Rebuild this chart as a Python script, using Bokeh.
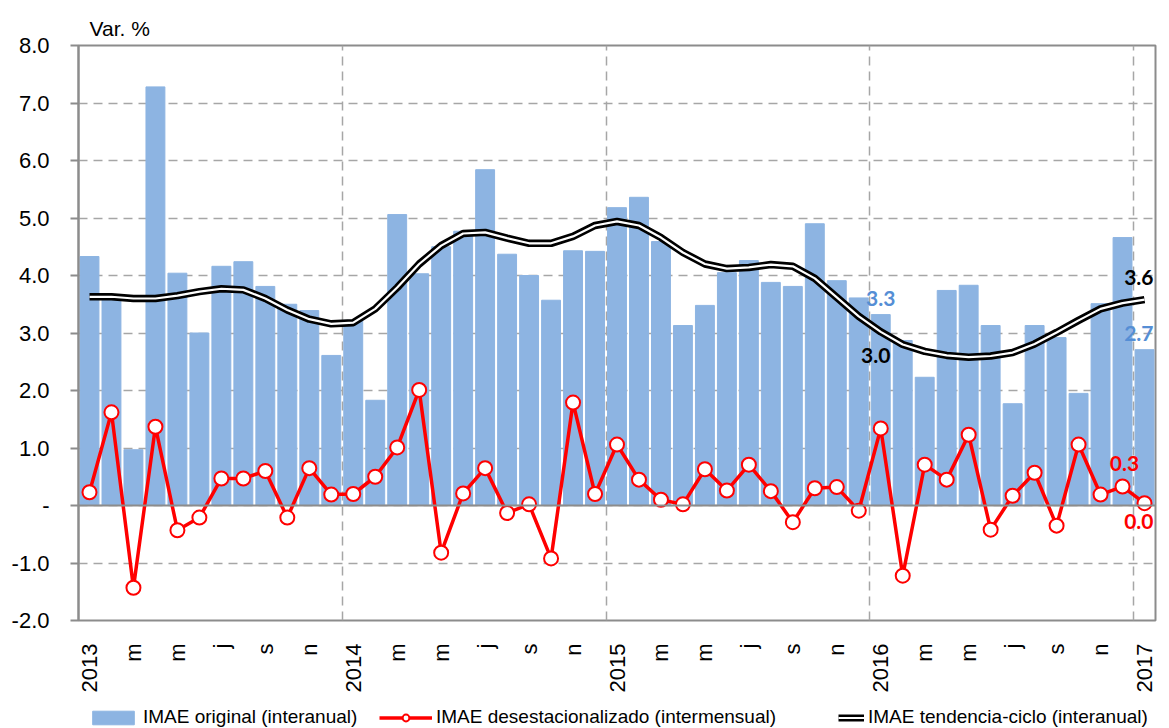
import math
from bokeh.plotting import figure
from bokeh.layouts import column
from bokeh.models import (FixedTicker, Span, Label, Legend, LegendItem, Range1d)
from bokeh.embed import file_html
from bokeh.resources import INLINE

# ---------------- data ----------------
months = list(range(49))  # Jan 2013 .. Jan 2017
years = ["2013", "2014", "2015", "2016", "2017"]
month_marks = ["m", "m", "j", "s", "n"]

imae_original = [4.33, 3.65, 0.97, 7.28, 4.04, 3.00, 4.16, 4.24, 3.81, 3.50, 3.39, 2.61,
                 3.22, 1.83, 5.06, 4.03, 4.50, 4.77, 5.84, 4.37, 4.00, 3.57, 4.43, 4.42,
                 5.18, 5.36, 4.59, 3.13, 3.48, 4.05, 4.26, 3.88, 3.81, 4.90, 3.91, 3.61,
                 3.32, 2.87, 2.23, 3.74, 3.83, 3.13, 1.77, 3.13, 2.92, 1.95, 3.51, 4.66,
                 2.71]

imae_desest = [0.23, 1.62, -1.43, 1.37, -0.43, -0.21, 0.47, 0.47, 0.60, -0.21, 0.65, 0.19,
               0.20, 0.50, 1.01, 2.01, -0.82, 0.21, 0.65, -0.13, 0.02, -0.92, 1.79, 0.20,
               1.06, 0.45, 0.10, 0.02, 0.63, 0.26, 0.71, 0.25, -0.29, 0.30, 0.32, -0.09,
               1.34, -1.22, 0.71, 0.45, 1.23, -0.42, 0.17, 0.57, -0.35, 1.06, 0.19, 0.33,
               0.04]

imae_tendencia = [3.63, 3.63, 3.60, 3.60, 3.65, 3.72, 3.77, 3.75, 3.60, 3.40, 3.24, 3.16,
                  3.18, 3.42, 3.79, 4.20, 4.52, 4.73, 4.75, 4.65, 4.56, 4.56, 4.68, 4.87,
                  4.94, 4.87, 4.66, 4.40, 4.20, 4.12, 4.14, 4.19, 4.16, 3.95, 3.62, 3.29,
                  3.02, 2.80, 2.68, 2.61, 2.58, 2.60, 2.66, 2.81, 3.01, 3.22, 3.42, 3.52,
                  3.58]

series_names = ["IMAE original (interanual)",
                "IMAE desestacionalizado (intermensual)",
                "IMAE tendencia-ciclo (interanual)"]

y_ticks = list(range(-2, 9))

# tick labels on the x axis: every second month
x_ticks = list(range(0, 49, 2))
x_labels = {}
for t in x_ticks:
    if t % 12 == 0:
        x_labels[t] = years[t // 12]
    else:
        x_labels[t] = month_marks[(t % 12) // 2 - 1]

y_labels = {v: ("-" if v == 0 else f"{v:.1f}") for v in y_ticks}

# ---------------- styling ----------------
GRAY = "#8c8c8c"
GRID = "#a6a6a6"
BAR = "#8db4e2"
RED = "#ff0000"
BLUE_TXT = "#558ed5"
FONT = "Liberation Sans"
W = 1169

# ---------------- main figure ----------------
p = figure(width=W, height=698, x_range=Range1d(-0.5, 48.5), y_range=Range1d(-2, 8),
           output_backend="svg", toolbar_location=None,
           min_border_left=78, min_border_right=14, min_border_top=45, min_border_bottom=78)

p.outline_line_color = GRAY
p.outline_line_width = 2
p.background_fill_color = "white"
p.border_fill_color = "white"

p.title.text = "Var. %"
p.title.align = "left"
p.title.offset = 11
p.title.standoff = 11
p.title.text_font = FONT
p.title.text_font_size = "21px"
p.title.text_font_style = "normal"
p.title.text_color = "black"

# y axis
p.yaxis.ticker = FixedTicker(ticks=y_ticks)
p.yaxis.major_label_overrides = y_labels
p.yaxis.axis_line_color = GRAY
p.yaxis.axis_line_width = 2
p.yaxis.major_tick_line_color = GRAY
p.yaxis.major_tick_line_width = 2
p.yaxis.major_tick_out = 8
p.yaxis.major_tick_in = 0
p.yaxis.minor_tick_line_color = None
p.yaxis.major_label_text_font = FONT
p.yaxis.major_label_text_font_size = "22px"
p.yaxis.major_label_text_color = "black"
p.yaxis.major_label_standoff = 21

# x axis
p.xaxis.ticker = FixedTicker(ticks=x_ticks)
p.xaxis.major_label_overrides = x_labels
p.xaxis.axis_line_color = None
p.xaxis.major_tick_line_color = None
p.xaxis.minor_tick_line_color = None
p.xaxis.major_label_orientation = math.pi / 2
p.xaxis.major_label_text_font = FONT
p.xaxis.major_label_text_font_size = "22px"
p.xaxis.major_label_text_color = "black"
p.xaxis.major_label_standoff = 17

# grids
p.ygrid.ticker = FixedTicker(ticks=y_ticks)
p.ygrid.grid_line_color = GRID
p.ygrid.grid_line_dash = "9 6"
p.ygrid.grid_line_width = 1.5
p.xgrid.ticker = FixedTicker(ticks=[11.5, 23.5, 35.5, 47.5])
p.xgrid.grid_line_color = GRID
p.xgrid.grid_line_dash = "9 6"
p.xgrid.grid_line_width = 1.5

# glyphs
p.vbar(x=months, top=imae_original, width=0.86, fill_color=BAR, line_color=BAR)
p.add_layout(Span(location=0, dimension="width", line_color=GRAY, line_width=2))
p.line(months, imae_tendencia, line_color="black", line_width=7.5)
p.line(months, imae_tendencia, line_color="white", line_width=2.2)
p.line(months, imae_desest, line_color=RED, line_width=3.5)
p.scatter(months, imae_desest, marker="circle", size=14, fill_color="white",
          line_color=RED, line_width=2)

# data labels
def lab(x, y, text, color, xo, yo, baseline, align="center"):
    p.add_layout(Label(x=x, y=y, text=text, text_color=color, text_font="Lato",
                       text_font_style="bold", text_font_size="21px", text_align=align,
                       text_baseline=baseline, x_offset=xo, y_offset=yo))

lab(36, imae_original[36], "3.3", BLUE_TXT, 0, 9, "bottom")
lab(36, imae_tendencia[36], "3.0", "black", -5, -16, "top")
lab(48, imae_tendencia[48], "3.6", "black", 9, 15, "bottom", "right")
lab(48, imae_original[48], "2.7", BLUE_TXT, 9, 9, "bottom", "right")
lab(47, imae_desest[47], "0.3", RED, 2, 16, "bottom")
lab(48, imae_desest[48], "0.0", RED, 9, -11, "top", "right")

# ---------------- legend strip ----------------
NAN = float("nan")
lg = figure(width=W, height=30, x_range=Range1d(0, W), y_range=Range1d(0, 30),
            output_backend="svg", toolbar_location=None,
            x_axis_type=None, y_axis_type=None,
            min_border_left=0, min_border_right=0, min_border_top=0, min_border_bottom=0)
lg.outline_line_color = None
lg.xgrid.visible = False
lg.ygrid.visible = False

r_bar = lg.vbar(x=[NAN], top=[NAN], width=1, fill_color=BAR, line_color=BAR)
r_red_l = lg.line([NAN], [NAN], line_color=RED, line_width=3.5)
r_red_p = lg.scatter([NAN], [NAN], marker="circle", size=13, fill_color="white",
                     line_color=RED, line_width=2)
r_tr_o = lg.line([NAN], [NAN], line_color="black", line_width=7)
r_tr_i = lg.line([NAN], [NAN], line_color="white", line_width=2)

def make_legend(label, renderers, x, gw):
    leg = Legend(items=[LegendItem(label=label, renderers=renderers)],
                 orientation="horizontal", location=(x, 0))
    leg.label_text_font = FONT
    leg.label_text_font_size = "19px"
    leg.label_text_color = "black"
    leg.glyph_width = gw
    leg.glyph_height = 17
    leg.label_standoff = 4
    leg.padding = 0
    leg.margin = 0
    leg.border_line_color = None
    leg.background_fill_alpha = 0
    lg.add_layout(leg)

# x positions are measured from the left edge of the plot frame
make_legend(series_names[0], [r_bar], 9, 52)
make_legend(series_names[1], [r_red_l, r_red_p], 301, 53)
make_legend(series_names[2], [r_tr_o, r_tr_i], 760, 26)

layout = column(p, lg, spacing=0)
open("out.html", "w").write(file_html(layout, INLINE))
